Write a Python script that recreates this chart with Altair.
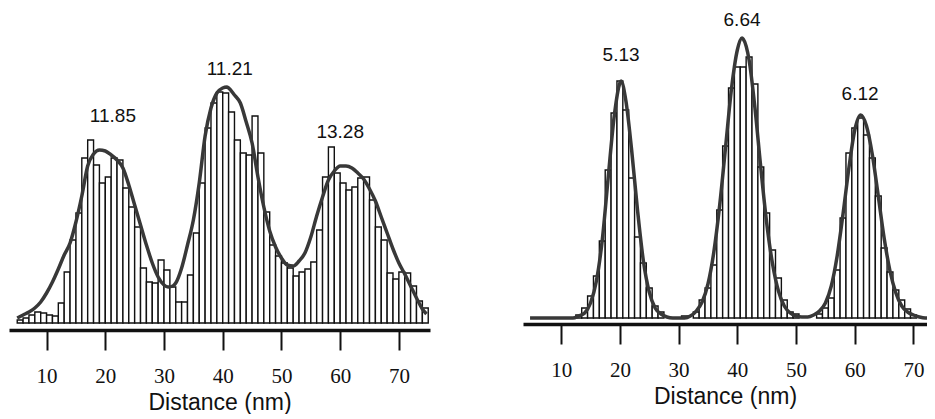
import altair as alt
import pandas as pd

# ---------------- data ----------------
left_centers = [5.5, 6.5, 7.5, 8.5, 9.5, 10.5, 11.5, 12.5, 13.5, 14.5, 15.5, 16.5, 17.5, 18.5,
                19.5, 20.5, 21.5, 22.5, 23.5, 24.5, 25.5, 26.5, 27.5, 28.5, 29.5, 30.5, 31.5,
                32.5, 33.5, 34.5, 35.5, 36.5, 37.5, 38.5, 39.5, 40.5, 41.5, 42.5, 43.5, 44.5,
                45.5, 46.5, 47.5, 48.5, 49.5, 50.5, 51.5, 52.5, 53.5, 54.5, 55.5, 56.5, 57.5,
                58.5, 59.5, 60.5, 61.5, 62.5, 63.5, 64.5, 65.5, 66.5, 67.5, 68.5, 69.5, 70.5,
                71.5, 72.5, 73.5, 74.5]
left_counts = [3, 5, 8, 11, 10, 8, 7, 20, 51, 83, 110, 165, 183, 158,
               140, 146, 165, 163, 135, 116, 96, 55, 41, 40, 63, 53, 36,
               21, 21, 48, 90, 140, 195, 220, 231, 230, 211, 183, 170, 168,
               207, 170, 111, 78, 67, 60, 55, 47, 51, 54, 61, 93, 146,
               176, 150, 140, 133, 136, 145, 146, 123, 96, 83, 50, 44, 51,
               50, 37, 22, 15]

left_fit_x = [5.0, 6, 7, 8, 9, 10, 11, 12, 13, 14, 15, 16, 17, 18, 19, 20, 21, 22, 23, 24, 25,
              26, 27, 28, 29, 30, 30.7, 31.5, 32, 33, 34, 35, 36, 37, 38, 39, 40, 40.7, 41, 42,
              43, 44, 45, 46, 47, 48, 49, 50, 51, 52, 53, 54, 55, 56, 57, 58, 59, 60, 61, 62,
              63, 64, 65, 66, 67, 68, 69, 70, 71, 72, 73, 74, 74.7]
left_fit_y = [5, 8, 11, 15, 21, 30, 41, 54, 68, 80, 101, 127, 157, 169, 173, 172, 168, 163, 155,
              138, 118, 98, 78, 60, 46, 38, 36, 37, 40, 55, 78, 103, 140, 187, 215, 230, 235,
              236, 235, 228, 220, 201, 180, 146, 116, 92, 76, 65, 58, 57, 62, 70, 86, 107, 126,
              143, 152, 157, 157, 155, 150, 144, 134, 122, 106, 90, 74, 60, 49, 37, 25, 14, 9]

right_centers = [13, 14, 15, 16, 17, 18, 19, 20, 21, 22, 23, 24, 25, 26, 27, 31,
                 33, 34, 35, 36, 37, 38, 39, 40, 41, 42, 43, 44, 45, 46, 47, 48, 49, 50,
                 54, 55, 56, 57, 58, 59, 60, 61, 62, 63, 64, 65, 66, 67, 68, 69, 70]
right_counts = [3, 10, 22, 42, 77, 148, 205, 237, 208, 140, 81, 55, 30, 12, 6, 2,
                6, 18, 30, 53, 108, 172, 230, 251, 251, 261, 234, 151, 105, 68, 40, 18, 6, 4,
                4, 10, 20, 48, 100, 165, 190, 200, 183, 160, 122, 70, 46, 28, 18, 9, 3]

right_fit_x = [4.7, 12, 13, 14, 15, 16, 17, 18, 19, 20, 20.2, 21, 22, 23, 24, 25, 26, 27, 28, 29,
               31, 32, 33, 34, 35, 36, 37, 38, 39, 40, 40.8, 41, 42, 43, 44, 45, 46, 47, 48, 49,
               50, 51, 52, 53, 54, 55, 56, 57, 58, 59, 60, 61, 62, 63, 64, 65, 66, 67, 68, 69,
               70, 71, 72, 73.4]
right_fit_y = [0, 0, 2, 5, 15, 37, 78, 140, 200, 235, 237, 218, 168, 108, 57, 26, 10, 4, 1, 0,
               0, 2, 7, 16, 34, 66, 113, 171, 229, 268, 280, 279, 258, 210, 150, 95, 54, 27, 12, 5,
               2, 1, 1, 3, 7, 15, 32, 62, 104, 150, 188, 203, 192, 163, 122, 80, 47, 25, 12, 6,
               3, 1, 0, 0]

left_labels = ["11.85", "11.21", "13.28"]
left_label_x = [21.3, 41.2, 60.0]
left_label_y = [207, 254, 191]
right_labels = ["5.13", "6.64", "6.12"]
right_label_x = [20.2, 40.8, 60.9]
right_label_y = [263, 298, 224]

tick_values = [10, 20, 30, 40, 50, 60, 70]

INK = "#111111"
CURVE = "#383838"


def panel(centers, counts, fx, fy, labs, lx, ly, xdom, ydom, w, h):
    bars_df = pd.DataFrame({"d": centers, "c": counts})
    fit_df = pd.DataFrame({"d": fx, "v": fy})
    lab_df = pd.DataFrame({"d": lx, "v": ly, "t": labs})
    xs = alt.Scale(domain=xdom, nice=False, zero=False)
    ys = alt.Scale(domain=ydom, nice=False, zero=False)
    xaxis = alt.Axis(values=tick_values, title="Distance (nm)", grid=False)

    bars = alt.Chart(bars_df).transform_calculate(
        x0="datum.d - 0.5", x1="datum.d + 0.5"
    ).mark_rect(fill="white", stroke=INK, strokeWidth=1.4).encode(
        x=alt.X("x0:Q", scale=xs, axis=xaxis),
        x2="x1:Q",
        y=alt.Y("c:Q", scale=ys, axis=None),
        y2=alt.datum(0),
    )
    fit = alt.Chart(fit_df).mark_line(
        color=CURVE, strokeWidth=3.5, interpolate="monotone", clip=True
    ).encode(
        x=alt.X("d:Q", scale=xs, axis=xaxis),
        y=alt.Y("v:Q", scale=ys, axis=None),
    )
    text = alt.Chart(lab_df).mark_text(
        font="Liberation Sans", fontSize=19, color=INK
    ).encode(
        x=alt.X("d:Q", scale=xs, axis=xaxis),
        y=alt.Y("v:Q", scale=ys, axis=None),
        text="t:N",
    )
    return alt.layer(bars, fit, text).properties(width=w, height=h)


left = panel(left_centers, left_counts, left_fit_x, left_fit_y,
             left_labels, left_label_x, left_label_y,
             [3.6, 75.3], [-7, 315], 421, 322)
right = panel(right_centers, right_counts, right_fit_x, right_fit_y,
              right_labels, right_label_x, right_label_y,
              [3.5, 72.3], [-6, 310], 404, 316)

chart = alt.hconcat(left, right, spacing=93).properties(
    padding={"left": 1, "top": 0, "right": 0, "bottom": 0}
).configure_view(stroke=None).configure_axis(
    domainColor=INK, domainWidth=3.5, tickColor=INK, tickWidth=2, tickSize=20,
    labelFont="Liberation Serif", labelFontSize=21, labelColor=INK, labelPadding=15,
    titleFont="Liberation Sans", titleFontSize=23, titleFontWeight="normal",
    titleColor=INK, titlePadding=5,
)

chart.save("out.html", embed_options={"renderer": "svg", "actions": False})
